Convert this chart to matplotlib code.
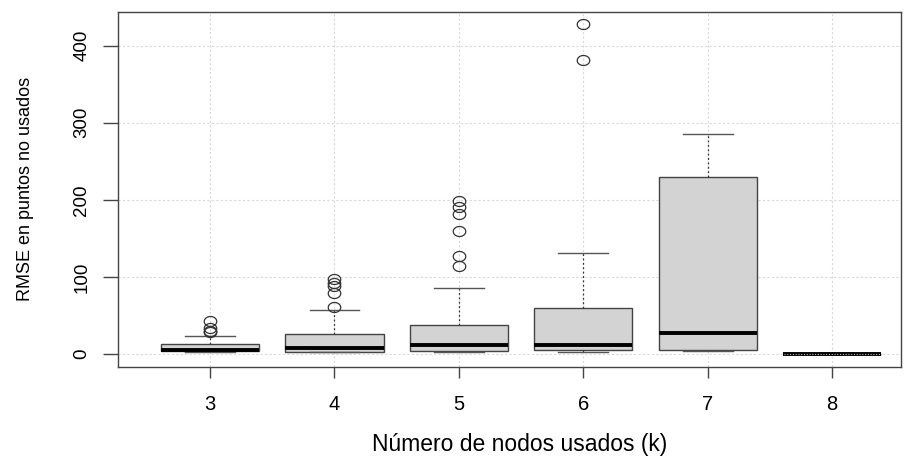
import matplotlib
matplotlib.use("Agg")
import matplotlib.pyplot as plt
import numpy as np
from matplotlib.path import Path

plt.rcParams["font.family"] = ["Liberation Sans", "DejaVu Sans"]

# ── Data ──────────────────────────────────────────────────────────────────────
k_labels = ["3", "4", "5", "6", "7", "8"]
q1       = [3.5, 3.0, 3.5, 4.8, 5.0, 0.0]
median   = [5.0, 7.8, 11.3, 11.0, 27.7, 0.0]
q3       = [12.6, 25.5, 37.0, 60.0, 230.0, 0.0]
whis_lo  = [3.0, 2.5, 2.5, 2.0, 4.3, 0.0]
whis_hi  = [23.8, 57.0, 85.0, 131.0, 285.0, 0.0]
outliers = [
    [43, 33, 30, 28],
    [97, 92, 88, 79, 61],
    [198, 191, 181, 159, 127, 114],
    [428, 381],
    [],
    [],
]
y_ticks = [0, 100, 200, 300, 400]

stats = []
for i, lab in enumerate(k_labels):
    stats.append(dict(label=lab, q1=q1[i], med=median[i], q3=q3[i],
                      whislo=whis_lo[i], whishi=whis_hi[i], fliers=outliers[i]))

# open ellipse marker (reference is stretched horizontally)
t = np.linspace(0, 2 * np.pi, 60)
ellipse = Path(np.column_stack([np.cos(t), 0.8 * np.sin(t)]), closed=True)

fig = plt.figure(figsize=(9.14, 4.57), dpi=100)
ax = fig.add_axes([0.129, 0.197, 0.857, 0.777])

positions = np.arange(1, len(k_labels) + 1)
ax.bxp(stats, positions=positions, widths=0.79, patch_artist=True,
       boxprops=dict(facecolor="#d3d3d3", edgecolor="#444444", linewidth=1.0),
       medianprops=dict(color="black", linewidth=2.8, solid_capstyle="butt"),
       whiskerprops=dict(color="#333333", linestyle=(0, (1.5, 2)), linewidth=0.9),
       capprops=dict(color="#555555", linewidth=1.0),
       capwidths=0.4,
       flierprops=dict(marker=ellipse, markersize=9, markerfacecolor="none",
                       markeredgecolor="#333333", markeredgewidth=0.9),
       zorder=3)

# k=8 is all zeros: R draws it as a flat, dotted-looking bar
ax.hlines(median[5], positions[5] - 0.385, positions[5] + 0.385,
          colors="#bbbbbb", linestyles=(0, (1, 1.5)), linewidth=0.8, zorder=4)

ax.set_xlim(0.26, 6.555)
ax.set_ylim(-17, 444)
ax.set_yticks(y_ticks)
ax.set_yticklabels([str(v) for v in y_ticks], rotation=90, va="center")
ax.set_xticks(positions)
ax.set_xticklabels(k_labels)

ax.grid(True, color="#d9d9d9", linestyle=(0, (2, 2)), linewidth=0.8, zorder=0)
ax.set_axisbelow(True)

for s in ax.spines.values():
    s.set_color("#444444")
    s.set_linewidth(1.0)

ax.tick_params(axis="y", length=11, width=1.0, color="#444444", pad=9, labelsize=13.5)
ax.tick_params(axis="x", length=8, width=1.0, color="#444444", pad=12, labelsize=14.5)

ax.set_xlabel("Número de nodos usados (k)", fontsize=16.5, labelpad=14)
ax.xaxis.label.set_x(0.513)
ax.set_ylabel("RMSE en puntos no usados", fontsize=13, labelpad=28)

fig.savefig("out.png", dpi=100)
